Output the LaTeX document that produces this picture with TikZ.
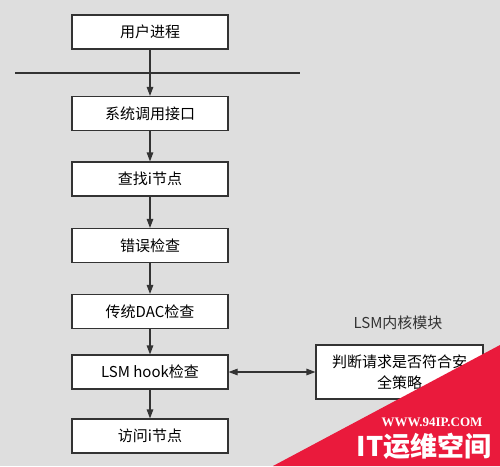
\documentclass[tikz,border=0pt]{standalone}
\usepackage{fontspec}
\setmainfont{Noto Sans CJK SC}
\newfontfamily\wmserif{Liberation Serif}
\usetikzlibrary{arrows.meta, positioning}
\definecolor{cbg}{HTML}{DEDEDE}
\definecolor{cline}{HTML}{333333}
\definecolor{cred}{HTML}{EA1A3C}
\tikzset{
  every picture/.style={line width=1.1pt},
  box/.style={draw=cline, fill=white, minimum width=156pt, minimum height=34pt, inner sep=2pt, align=center, font=\fontsize{15}{21}\selectfont},
  arrow/.style={-{Triangle[length=9pt, width=6.5pt]}, draw=cline, line width=1.1pt},
  note/.style={font=\fontsize{15}{18}\selectfont, text=cline},
}
\begin{document}
\begin{tikzpicture}[x=1pt, y=-1pt]
  \fill[cbg] (0,0) rectangle (500,466);
  \useasboundingbox (0,0) rectangle (500,466);
  \foreach \n/\y/\t in {p1/32/用户进程, p2/113.5/系统调用接口, p3/179/查找i节点, p4/245.5/错误检查, p5/311.5/传统DAC检查, p6/372/LSM hook检查, p7/436/访问i节点}
    \node[box] (\n) at (150,\y) {\t};
  % user / kernel boundary
  \coordinate (l1) at (15,73);
  \coordinate (l2) at (300,73);
  \draw[cline] (l1) -- (l2);
  \foreach \a/\b in {p1/p2, p2/p3, p3/p4, p4/p5, p5/p6, p6/p7}
    \draw[arrow] (\a) -- (\b);
  % LSM module
  \node[box, minimum width=167pt, minimum height=54pt, text width=155pt] (lsm) at (399.5,372) {判断请求是否符合安\\全策略};
  \node[note] (lsmlab) at (398,323) {LSM内核模块};
  \draw[arrow, {Triangle[length=9pt, width=6.5pt]}-{Triangle[length=9pt, width=6.5pt]}] (p6) -- (lsm);
  % watermark
  \fill[cred] (273,466) -- (500,345) -- (500,466) -- cycle;
  \node[text=white, font=\wmserif\bfseries\fontsize{13}{14}\selectfont] (wm1) at (432,422) {WWW.94IP.COM};
  \node[text=white, font=\bfseries\fontsize{27}{30}\selectfont] (wm2) at (424,446) {IT运维空间};
\end{tikzpicture}
\end{document}
